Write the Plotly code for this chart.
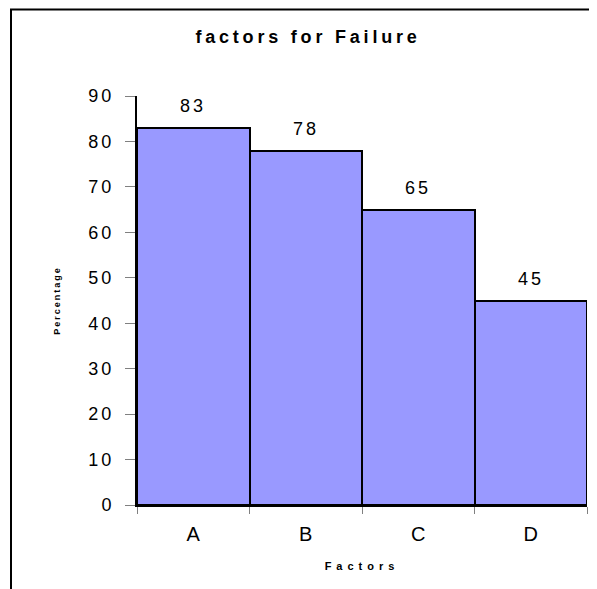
import plotly.graph_objects as go

categories = ["A", "B", "C", "D"]
values = [83, 78, 65, 45]
y_ticks = [0, 10, 20, 30, 40, 50, 60, 70, 80, 90]

FONT = "Liberation Sans, Arial, sans-serif"

def spaced(t, px):
    return f'<span style="letter-spacing:{px}px">{t}</span>'

fig = go.Figure()
fig.add_trace(go.Bar(
    x=categories, y=values,
    marker=dict(color="#9999FF", line=dict(color="black", width=2)),
    hoverinfo="skip",
))

for c, v in zip(categories, values):
    fig.add_annotation(x=c, y=v, text=spaced(str(v), 3), showarrow=False,
                       yanchor="middle", yshift=22,
                       font=dict(family=FONT, size=18, color="black"))

W, H = 589, 581
fig.update_layout(
    width=W, height=H,
    margin=dict(l=129, r=10, t=88, b=84),
    paper_bgcolor="white", plot_bgcolor="white",
    bargap=0,
    showlegend=False,
    title=dict(text="<b>" + spaced("factors for Failure", 3.8) + "</b>",
               x=300 / W, xref="container", xanchor="center",
               y=1 - 29 / H, yref="container", yanchor="middle",
               font=dict(family=FONT, size=18, color="black")),
    font=dict(family=FONT, color="black"),
)

fig.update_xaxes(
    type="category", showline=True, linecolor="black", linewidth=2,
    ticks="outside", tickson="boundaries", ticklen=7, tickcolor="#808080", tickwidth=1,
    ticklabelstandoff=10,
    tickfont=dict(family=FONT, size=20, color="black"),
    showgrid=False,
    title=dict(text="<b>" + spaced("Factors", 5) + "</b>", standoff=18,
               font=dict(family=FONT, size=11, color="black")),
)
fig.update_yaxes(
    range=[0, 90], tickmode="array", tickvals=y_ticks,
    ticktext=[spaced(str(t), 3) for t in y_ticks],
    showline=True, linecolor="black", linewidth=2,
    ticks="outside", ticklen=10, tickcolor="#808080", tickwidth=1,
    ticklabelstandoff=7,
    tickfont=dict(family=FONT, size=18, color="black"),
    showgrid=False, zeroline=False,
    title=dict(text="<b>" + spaced("Percentage", 2) + "</b>", standoff=26,
               font=dict(family=FONT, size=9, color="black")),
)

fig.add_shape(type="rect", xref="paper", yref="paper",
              x0=(3 - 129) / 450, x1=1.05, y0=-0.4, y1=(497 - 1.5) / 409,
              line=dict(color="black", width=2), fillcolor="rgba(0,0,0,0)",
              layer="above")

fig.write_html("out.html")
